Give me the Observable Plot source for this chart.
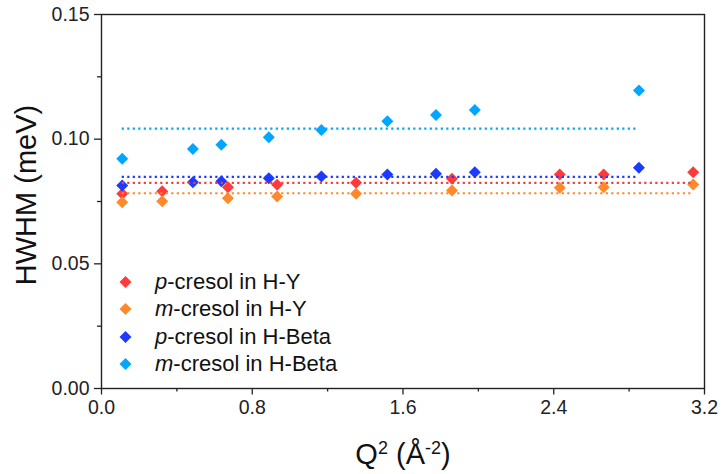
<!DOCTYPE html>
<html><head><meta charset="utf-8">
<script src="https://cdn.jsdelivr.net/npm/d3@7"></script>
<script src="https://cdn.jsdelivr.net/npm/@observablehq/plot@0.6"></script>
<style>
body{margin:0;background:#fff;font-family:"Liberation Sans",Arial,sans-serif;}
#wrap{position:relative;width:722px;height:474px;overflow:hidden;}
#wrap svg{display:block;}
.ttl{position:absolute;font-size:29px;color:#111;white-space:nowrap;line-height:1;}
.ttl sup{font-size:0.62em;vertical-align:0.55em;line-height:0;}
#ytitle{left:26px;top:195px;transform:translate(-50%,-50%) rotate(-90deg);transform-origin:50% 50%;}
#xtitle{left:403px;top:454px;transform:translate(-50%,-50%);}
#legend{position:absolute;left:113px;top:268px;font-size:22px;color:#111;}
.row{height:27.5px;display:flex;align-items:center;}
.row svg{width:25px;height:14px;margin-right:17px;}
</style>
</head><body>
<div id="wrap"></div>
<script>
// ---- data ----
const seriesNames = ["p-cresol in H-Y", "m-cresol in H-Y", "p-cresol in H-Beta", "m-cresol in H-Beta"];
const hyX   = [0.110, 0.322, 0.671, 0.932, 1.351, 1.860, 2.432, 2.665, 3.140];
const pHY   = [0.0781, 0.0791, 0.0807, 0.0817, 0.0825, 0.0841, 0.0858, 0.0858, 0.0867];
const mHY   = [0.0747, 0.0751, 0.0763, 0.0770, 0.0781, 0.0794, 0.0805, 0.0807, 0.0818];
const betaX = [0.110, 0.485, 0.636, 0.888, 1.167, 1.517, 1.775, 1.981, 2.852];
const pBeta = [0.0814, 0.0827, 0.0831, 0.0843, 0.0850, 0.0858, 0.0861, 0.0867, 0.0885];
const mBeta = [0.0921, 0.0961, 0.0978, 0.1008, 0.1037, 0.1072, 0.1097, 0.1117, 0.1195];
const meanValues = [0.0825, 0.0783, 0.0849, 0.1042];
const lineStart  = [0.11, 0.11, 0.11, 0.11];
const lineEnd    = [3.14, 3.14, 2.85, 2.85];
const xTicks = [0, 0.8, 1.6, 2.4, 3.2];
const xMinor = [0.4, 1.2, 2.0, 2.8];
const yTicks = [0, 0.05, 0.10, 0.15];
const yMinor = [0.025, 0.075, 0.125];
const colors = ["#ff3a3a", "#ff882a", "#1d3bff", "#00a6ff"];

const seriesX = [hyX, hyX, betaX, betaX];
const seriesY = [pHY, mHY, pBeta, mBeta];

const dotMarks = seriesY.map((ys, s) =>
  Plot.dot(ys.map((y, i) => ({x: seriesX[s][i], y})),
    {x: "x", y: "y", symbol: "diamond2", r: 5.4, fill: colors[s], stroke: "none"}));

const lines = meanValues.map((v, s) => ({y: v, x1: lineStart[s], x2: lineEnd[s], s}));
const lineMarks = lines.map(d =>
  Plot.ruleY([d], {y: "y", x1: "x1", x2: "x2", stroke: colors[d.s], strokeWidth: 2.2,
    strokeDasharray: "2.2 3.3"}));

const chart = Plot.plot({
  width: 722, height: 474,
  marginLeft: 101, marginRight: 18, marginTop: 14, marginBottom: 86,
  x: {domain: [0, 3.2]},
  y: {domain: [0, 0.15]},
  style: {fontFamily: "'Liberation Sans', Arial, sans-serif", fontSize: "19.5px", color: "#222", background: "#fff"},
  marks: [
    ...dotMarks,
    ...lineMarks,
    Plot.frame({stroke: "#222", strokeWidth: 1.4}),
    Plot.axisX({ticks: xTicks, tickSize: 6.5, tickPadding: 5, tickFormat: d => d.toFixed(1), label: null, stroke: "#222", strokeWidth: 1.3}),
    Plot.axisX({ticks: xMinor, tickSize: 3.5, tickFormat: () => "", label: null, stroke: "#222", strokeWidth: 1.3}),
    Plot.axisY({ticks: yTicks, tickSize: 7, tickPadding: 5, tickFormat: d => d.toFixed(2), label: null, stroke: "#222", strokeWidth: 1.3}),
    Plot.axisY({ticks: yMinor, tickSize: 4, tickFormat: () => "", label: null, stroke: "#222", strokeWidth: 1.3})
  ]
});

const wrap = document.getElementById("wrap");
wrap.appendChild(chart);

const yt = document.createElement("div");
yt.id = "ytitle"; yt.className = "ttl"; yt.textContent = "HWHM (meV)";
wrap.appendChild(yt);
const xt = document.createElement("div");
xt.id = "xtitle"; xt.className = "ttl";
xt.innerHTML = "Q<sup>2</sup> (Å<sup>-2</sup>)";
wrap.appendChild(xt);

const leg = document.createElement("div");
leg.id = "legend";
seriesNames.forEach((name, s) => {
  const row = document.createElement("div");
  row.className = "row";
  const [pre, rest] = [name.slice(0, 1), name.slice(1)];
  row.innerHTML = `<svg viewBox="-12.5 -7 25 14"><path d="M0,-6L6,0L0,6L-6,0Z" fill="${colors[s]}"/></svg><span><i>${pre}</i>${rest}</span>`;
  leg.appendChild(row);
});
wrap.appendChild(leg);
</script>
</body></html>
